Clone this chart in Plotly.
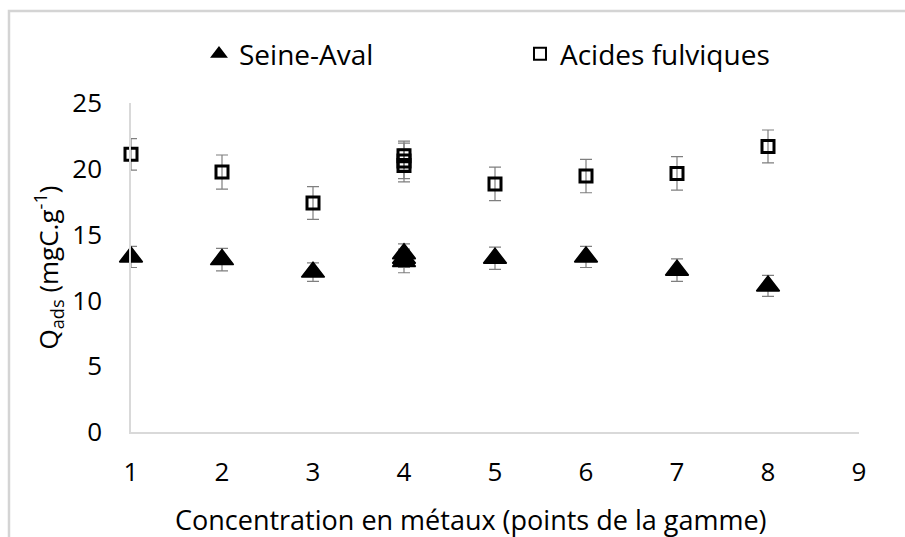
import plotly.graph_objects as go

# Seine-Aval (triangles)
seine_x = [1, 2, 3, 4, 4, 4, 5, 6, 7, 8]
seine_y = [13.3, 13.1, 12.15, 13.55, 13.2, 12.95, 13.2, 13.3, 12.3, 11.1]
seine_err = [0.8, 0.85, 0.7, 0.75, 0.7, 0.85, 0.85, 0.8, 0.85, 0.8]

# Acides fulviques (carres)
fulv_x = [1, 2, 3, 4, 4, 4, 5, 6, 7, 8]
fulv_y = [21.1, 19.75, 17.4, 21.0, 20.6, 20.25, 18.85, 19.45, 19.65, 21.7]
fulv_err = [1.2, 1.3, 1.25, 1.1, 1.35, 1.25, 1.27, 1.27, 1.27, 1.25]

x_ticks = [1, 2, 3, 4, 5, 6, 7, 8, 9]
y_ticks = [0, 5, 10, 15, 20, 25]

FONT = "Open Sans"
ERR_COLOR = "#7f7f7f"

fig = go.Figure()

fig.add_trace(go.Scatter(
    x=seine_x, y=seine_y, mode="markers", name="Seine-Aval",
    marker=dict(symbol="triangle-up", size=20, color="black",
                line=dict(color="black", width=1.5)),
    error_y=dict(type="data", array=seine_err, color=ERR_COLOR,
                 thickness=1.2, width=6),
    cliponaxis=False,
))

fig.add_trace(go.Scatter(
    x=fulv_x, y=fulv_y, mode="markers", name="Acides fulviques",
    marker=dict(symbol="square-open", size=12, color="black",
                line=dict(color="black", width=3)),
    error_y=dict(type="data", array=fulv_err, color=ERR_COLOR,
                 thickness=1.2, width=6),
    cliponaxis=False,
))

# cadre gris clair autour du graphique
fig.add_shape(type="rect", xref="paper", yref="paper",
              x0=-0.1676, x1=1.1, y0=-0.5, y1=1.2796,
              line=dict(color="#d4d4d4", width=2.5), layer="below")

# titre de l'axe x (legerement decale a gauche comme dans l'original)
fig.add_annotation(text="Concentration en métaux (points de la gamme)",
                   xref="paper", yref="paper", x=0.467, y=-0.267,
                   xanchor="center", yanchor="middle", showarrow=False,
                   font=dict(size=27))

fig.update_layout(
    width=905, height=537,
    margin=dict(l=131, r=46, t=103, b=105, autoexpand=False),
    paper_bgcolor="white", plot_bgcolor="white",
    font=dict(family=FONT, size=26, color="#000000"),
    showlegend=True,
    legend=dict(orientation="h", x=0.0934, y=1.149, xanchor="left", yanchor="middle",
                itemsizing="constant", entrywidth=276, entrywidthmode="pixels",
                font=dict(size=28), bgcolor="rgba(0,0,0,0)"),
    xaxis=dict(range=[1, 9], tickvals=x_ticks, showgrid=False, zeroline=False,
               showline=True, linecolor="#d9d9d9", linewidth=1.5,
               ticks="", ticklabelstandoff=16),
    yaxis=dict(range=[0, 25], tickvals=y_ticks, showgrid=False, zeroline=False,
               showline=True, linecolor="#d9d9d9", linewidth=1.5,
               ticks="", ticklabelstandoff=22,
               title=dict(text="Q<sub>ads</sub> (mgC.g<sup>-1</sup>)",
                          standoff=6, font=dict(size=26))),
)

# pas de marge autour de la page
fig.write_html("out.html", config={"displayModeBar": False},
               post_script="document.body.style.margin='0';")
